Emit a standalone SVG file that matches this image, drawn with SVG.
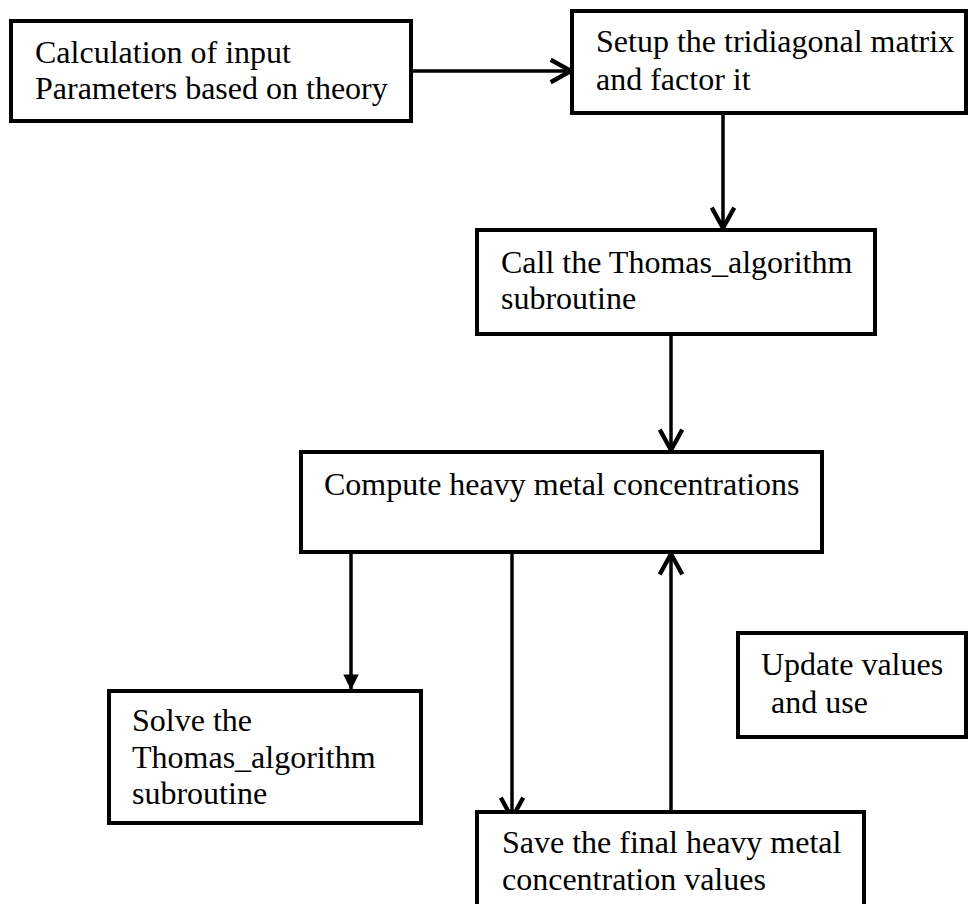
<svg xmlns="http://www.w3.org/2000/svg" width="969" height="904" viewBox="0 0 969 904">
<style>
.box{fill:#fff;stroke:#000;stroke-width:4}
.t{font-family:"Liberation Serif","Times New Roman",serif;font-size:32px;fill:#000}
.ln{stroke:#000;stroke-width:3.5;fill:none}
</style>
<defs>
<marker id="chev" markerUnits="userSpaceOnUse" markerWidth="30" markerHeight="30" refX="0" refY="0" viewBox="-22 -14 26 28" orient="auto" overflow="visible">
<path d="M-19,-10.5 L0,0 L-19,10.5" fill="none" stroke="#000" stroke-width="4"/>
</marker>
<marker id="tri" markerUnits="userSpaceOnUse" markerWidth="20" markerHeight="20" refX="0" refY="0" viewBox="-16 -9 18 18" orient="auto" overflow="visible">
<path d="M-14,-7 L0,0 L-14,7 Z" fill="#000"/>
</marker>
</defs>
<rect width="969" height="904" fill="#fff"/>
<g id="connectors">
<line class="ln" x1="411" y1="71" x2="571" y2="71" marker-end="url(#chev)"/>
<line class="ln" x1="723" y1="113" x2="723" y2="228" marker-end="url(#chev)"/>
<line class="ln" x1="671" y1="334" x2="671" y2="450" marker-end="url(#chev)"/>
<line class="ln" x1="351" y1="552" x2="351" y2="690" marker-end="url(#tri)"/>
<line class="ln" x1="512" y1="552" x2="512" y2="818" marker-end="url(#chev)"/>
<line class="ln" x1="671" y1="822" x2="671" y2="554" marker-end="url(#chev)"/>
</g>
<g id="calc">
<rect class="box" x="11" y="21" width="400" height="100"/>
<text class="t" x="35" y="63">Calculation of input</text>
<text class="t" x="35" y="99">Parameters based on theory</text>
</g>
<g id="setup">
<rect class="box" x="572" y="11" width="394" height="102"/>
<text class="t" x="596" y="52">Setup the tridiagonal matrix</text>
<text class="t" x="596" y="90">and factor it</text>
</g>
<g id="call">
<rect class="box" x="477" y="230" width="398" height="104"/>
<text class="t" x="501" y="273">Call the Thomas_algorithm</text>
<text class="t" x="501" y="309">subroutine</text>
</g>
<g id="compute">
<rect class="box" x="301" y="452" width="521" height="100"/>
<text class="t" x="324" y="495">Compute heavy metal concentrations</text>
</g>
<g id="solve">
<rect class="box" x="109" y="691" width="312" height="132"/>
<text class="t" x="132" y="731">Solve the</text>
<text class="t" x="132" y="768">Thomas_algorithm</text>
<text class="t" x="132" y="804">subroutine</text>
</g>
<g id="update">
<rect class="box" x="738" y="633" width="228" height="104"/>
<text class="t" x="761" y="675">Update values</text>
<text class="t" x="771" y="713">and use</text>
</g>
<g id="save">
<rect class="box" x="477" y="812" width="387" height="110"/>
<text class="t" x="502" y="853">Save the final heavy metal</text>
<text class="t" x="502" y="890">concentration values</text>
</g>
</svg>
